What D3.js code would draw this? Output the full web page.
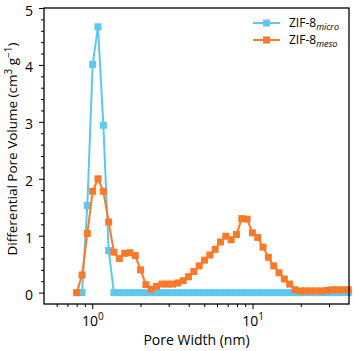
<!DOCTYPE html>
<html>
<head>
<meta charset="utf-8">
<script src="https://cdn.jsdelivr.net/npm/d3@7"></script>
<style>
  body { margin: 0; background: #fff; }
  text { font-family: "Open Sans", sans-serif; }
</style>
</head>
<body>
<svg id="chart"></svg>
<script>
// pore widths (nm) shared by both curves
const poreWidth = [0.800, 0.864, 0.932, 1.006, 1.086, 1.173, 1.266, 1.366, 1.475, 1.592,
  1.719, 1.855, 2.003, 2.162, 2.334, 2.519, 2.720, 2.936, 3.169, 3.421,
  3.693, 3.987, 4.304, 4.646, 5.015, 5.414, 5.845, 6.309, 6.811, 7.352,
  7.937, 8.568, 9.249, 9.984, 10.78, 11.63, 12.56, 13.56, 14.63, 15.80,
  17.05, 18.41, 19.87, 21.45, 23.16, 25.00, 26.98, 29.13, 31.45, 33.95,
  36.65, 39.56];

const microVol = [0, 0, 1.53, 4.01, 4.67, 2.94, 0.74, 0, 0, 0,
  0, 0, 0, 0, 0, 0, 0, 0, 0, 0,
  0, 0, 0, 0, 0, 0, 0, 0, 0, 0,
  0, 0, 0, 0, 0, 0, 0, 0, 0, 0,
  0, 0, 0, 0, 0, 0, 0, 0, 0, 0,
  0, 0];

const mesoVol = [0.00, 0.31, 1.04, 1.78, 2.00, 1.78, 1.24, 0.71, 0.60, 0.69,
  0.70, 0.65, 0.40, 0.14, 0.06, 0.11, 0.15, 0.15, 0.15, 0.17,
  0.21, 0.28, 0.37, 0.47, 0.57, 0.66, 0.76, 0.89, 0.99, 0.93,
  1.02, 1.30, 1.29, 1.05, 0.97, 0.80, 0.62, 0.47, 0.35, 0.24,
  0.15, 0.05, 0.03, 0.03, 0.03, 0.03, 0.03, 0.04, 0.05, 0.05,
  0.05, 0.05];

const seriesNames = ["micro", "meso"];
const seriesColors = ["#5cc8ec", "#fa7a2a"];

const yTicks = [0, 1, 2, 3, 4, 5];
const yMinor = [0.2, 0.4, 0.6, 0.8, 1.2, 1.4, 1.6, 1.8, 2.2, 2.4, 2.6, 2.8,
  3.2, 3.4, 3.6, 3.8, 4.2, 4.4, 4.6, 4.8];
const xTicks = [1, 10];
const xTickExp = ["0", "1"];
const xMinor = [0.6, 0.7, 0.8, 0.9, 2, 3, 4, 5, 6, 7, 8, 9, 20, 30];

const W = 354, H = 351;
const margin = { left: 44, right: 5, top: 8, bottom: 47 };

const svg = d3.select("#chart").attr("width", W).attr("height", H);

const x = d3.scaleLog().domain([0.5, 40]).range([margin.left, W - margin.right]);
const y = d3.scaleLinear().domain([-0.2, 5]).range([H - margin.bottom, margin.top]);

// lines and square markers
const series = [microVol, mesoVol];
series.forEach((vals, si) => {
  const pts = poreWidth.map((w, i) => [w, vals[i]]);
  const g = svg.append("g");
  g.append("path")
    .datum(pts)
    .attr("fill", "none")
    .attr("stroke", seriesColors[si])
    .attr("stroke-width", 2)
    .attr("d", d3.line().x(d => x(d[0])).y(d => y(d[1])));
  g.selectAll("rect")
    .data(pts)
    .enter()
    .append("rect")
    .attr("x", d => x(d[0]) - 3.5)
    .attr("y", d => y(d[1]) - 3.5)
    .attr("width", 7)
    .attr("height", 7)
    .attr("fill", seriesColors[si]);
});

// axes
const bottom = H - margin.bottom;
const xAxis = svg.append("g")
  .attr("transform", `translate(0,${bottom})`)
  .call(d3.axisBottom(x).tickValues(xTicks).tickSize(5).tickFormat(""));
xAxis.selectAll(".tick").append("text")
  .attr("y", 22)
  .attr("fill", "#000")
  .attr("text-anchor", "middle")
  .attr("font-size", 14)
  .each(function (d, i) {
    const t = d3.select(this);
    t.append("tspan").text("10");
    t.append("tspan").attr("dy", -6).attr("font-size", 10).text(xTickExp[i]);
  });
svg.append("g")
  .attr("transform", `translate(0,${bottom})`)
  .call(d3.axisBottom(x).tickValues(xMinor).tickSize(3).tickFormat(""));

svg.append("g")
  .attr("transform", `translate(${margin.left},0)`)
  .call(d3.axisLeft(y).tickValues(yTicks).tickSize(5).tickPadding(6).tickFormat(d3.format("d")))
  .selectAll("text").attr("font-size", 14).attr("fill", "#000").attr("dy", "0.5em");
svg.append("g")
  .attr("transform", `translate(${margin.left},0)`)
  .call(d3.axisLeft(y).tickValues(yMinor).tickSize(3).tickFormat(""));

svg.selectAll(".domain").remove();
svg.selectAll(".tick line").attr("stroke", "#000").attr("stroke-width", 1);

// frame
svg.append("rect")
  .attr("x", margin.left)
  .attr("y", margin.top)
  .attr("width", W - margin.left - margin.right)
  .attr("height", H - margin.top - margin.bottom)
  .attr("fill", "none")
  .attr("stroke", "#000")
  .attr("stroke-width", 1.3);

// axis labels
svg.append("text")
  .attr("x", (margin.left + W - margin.right) / 2)
  .attr("y", H - 6)
  .attr("text-anchor", "middle")
  .attr("font-size", 14)
  .text("Pore Width (nm)");

const yl = svg.append("text")
  .attr("transform", `translate(17,${(margin.top + bottom) / 2 - 7}) rotate(-90)`)
  .attr("text-anchor", "middle")
  .attr("font-size", 13.5);
yl.append("tspan").text("Differential Pore Volume (cm");
yl.append("tspan").attr("dy", -5).attr("font-size", 10).text("3");
yl.append("tspan").attr("dy", 5).text(" g");
yl.append("tspan").attr("dy", -5).attr("font-size", 10).text("\u22121");
yl.append("tspan").attr("dy", 5).text(")");

// legend
const legend = svg.append("g");
seriesNames.forEach((name, i) => {
  const ly = 23 + i * 17;
  legend.append("line")
    .attr("x1", 253).attr("x2", 280)
    .attr("y1", ly).attr("y2", ly)
    .attr("stroke", seriesColors[i]).attr("stroke-width", 2);
  legend.append("rect")
    .attr("x", 266.5 - 3.5).attr("y", ly - 3.5)
    .attr("width", 7).attr("height", 7)
    .attr("fill", seriesColors[i]);
  const t = legend.append("text")
    .attr("x", 289).attr("y", ly + 4)
    .attr("font-size", 12);
  t.append("tspan").text("ZIF-8");
  t.append("tspan").attr("dy", 3).attr("font-size", 9).attr("font-style", "italic").text(name);
});
</script>
</body>
</html>
